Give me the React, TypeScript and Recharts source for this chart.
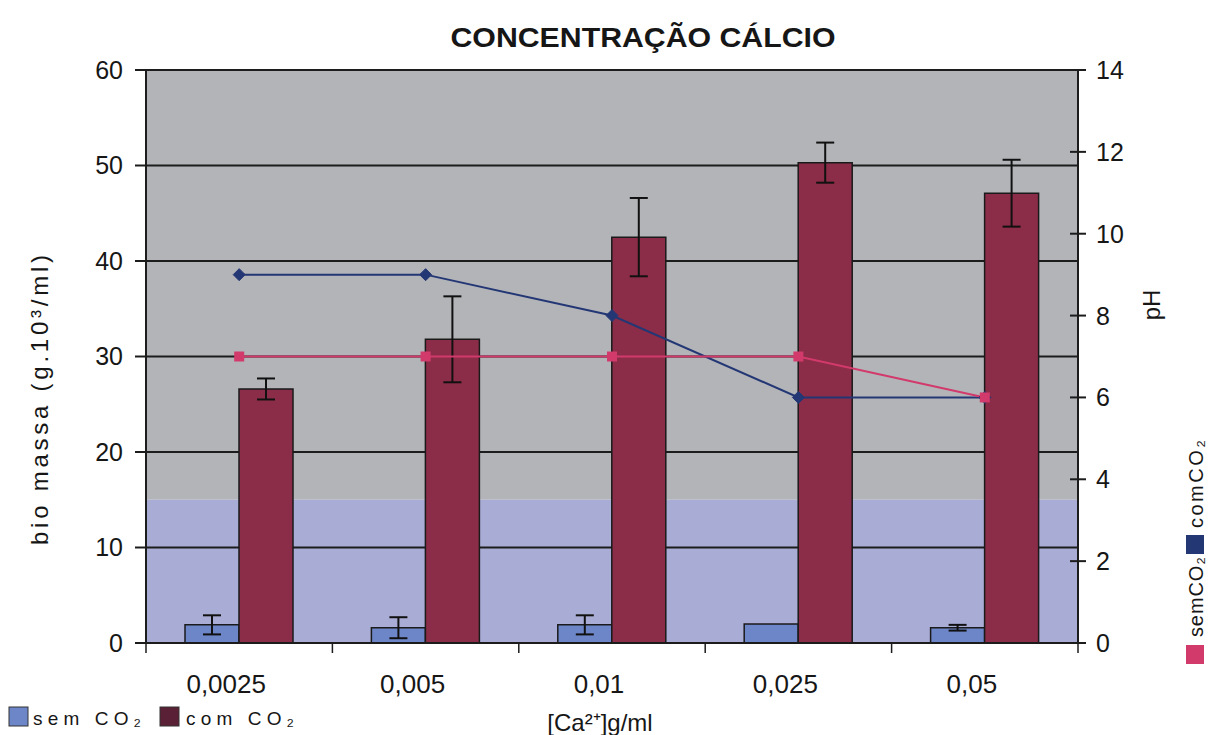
import React from 'react';
import {
  ComposedChart,
  Bar,
  Line,
  XAxis,
  YAxis,
  ErrorBar,
  ReferenceArea,
  ReferenceLine,
} from 'recharts';

// Calcium concentration categories (g/ml)
const concentrations = ['0,0025', '0,005', '0,01', '0,025', '0,05'];

// Biomass (g.10³/ml) without / with CO2 and their error margins
const biomassSemCO2 = [1.9, 1.6, 1.9, 2.0, 1.6];
const biomassSemCO2Err = [1.0, 1.1, 1.0, 0, 0.3];
const biomassComCO2 = [26.6, 31.8, 42.5, 50.3, 47.1];
const biomassComCO2Err = [1.1, 4.5, 4.1, 2.1, 3.5];

// pH of the medium
const phComCO2 = [9, 9, 8, 6, 6];
const phSemCO2 = [7, 7, 7, 7, 6];

// Axis ticks
const biomassTicks = [0, 10, 20, 30, 40, 50, 60];
const phTicks = [0, 2, 4, 6, 8, 10, 12, 14];
const gridLevels = [10, 20, 30, 40, 50, 60];
const bandBoundaries = [0, 1, 2, 3, 4, 5];

// Background bands on the biomass axis
const lowerBand = [0, 15];
const upperBand = [15, 60];

const data = concentrations.map((conc, i) => ({
  idx: i,
  conc,
  sem: biomassSemCO2[i],
  semErr: biomassSemCO2Err[i],
  com: biomassComCO2[i],
  comErr: biomassComCO2Err[i],
  phCom: phComCO2[i],
  phSem: phSemCO2[i],
}));

const FONT = "'Liberation Sans', Arial, sans-serif";
const NARROW = "'Liberation Sans Narrow', 'Arial Narrow', 'Liberation Sans', Arial, sans-serif";

const COLORS = {
  gray: '#b3b4b8',
  lavender: '#a9acd5',
  grid: '#1c1c1c',
  semBar: '#6d86c8',
  comBar: '#8b2c48',
  navy: '#243775',
  pink: '#d23a6c',
  text: '#161616',
};

const Diamond = (props: any) => {
  const { cx, cy } = props;
  if (cx == null || cy == null) return null;
  const s = 6;
  return (
    <path
      d={`M${cx},${cy - s} L${cx + s},${cy} L${cx},${cy + s} L${cx - s},${cy} Z`}
      fill={COLORS.navy}
      stroke={COLORS.navy}
    />
  );
};

const Square = (props: any) => {
  const { cx, cy } = props;
  if (cx == null || cy == null) return null;
  const s = 5;
  return <rect x={cx - s} y={cy - s} width={s * 2} height={s * 2} fill={COLORS.pink} />;
};

const PhTick = (props: any) => {
  const { x, y, payload } = props;
  return (
    <g>
      <line x1={x - 18} x2={x - 2} y1={y} y2={y} stroke={COLORS.grid} strokeWidth={2} />
      <text x={x + 8} y={y} dy="0.36em" textAnchor="start" fontSize={25} fontFamily={FONT} fill={COLORS.text}>
        {payload.value}
      </text>
    </g>
  );
};

const Overlay = () => (
  <svg
    width={1212}
    height={735}
    style={{ position: 'absolute', left: 0, top: 0, pointerEvents: 'none' }}
  >
    {/* chart title */}
    <text
      x={643}
      y={47}
      textAnchor="middle"
      fontSize={27}
      fontWeight="bold"
      fontFamily={NARROW}
      fill={COLORS.text}
      textLength={385}
      lengthAdjust="spacingAndGlyphs"
    >
      CONCENTRAÇÃO CÁLCIO
    </text>

    {/* biomass axis title */}
    <text
      transform="translate(48,400) rotate(-90)"
      textAnchor="middle"
      fontSize={24}
      fontFamily={FONT}
      fill={COLORS.text}
      textLength={290}
      lengthAdjust="spacing"
    >
      bio massa (g.10³/ml)
    </text>

    {/* pH axis title */}
    <text
      transform="translate(1160,305) rotate(-90)"
      textAnchor="middle"
      fontSize={24}
      fontFamily={FONT}
      fill={COLORS.text}
    >
      pH
    </text>

    {/* concentration axis title */}
    <text x={600} y={731} textAnchor="middle" fontSize={24} fontFamily={FONT} fill={COLORS.text}>
      [Ca²⁺]g/ml
    </text>

    {/* bar legend */}
    <rect x={9} y={707} width={19} height={19} fill={COLORS.semBar} stroke="#333" strokeWidth={1} />
    <text x={33} y={725} fontSize={19} fontFamily={FONT} fill={COLORS.text} textLength={108} lengthAdjust="spacing">
      sem CO₂
    </text>
    <rect x={160} y={707} width={19} height={19} fill="#5a2035" stroke="#333" strokeWidth={1} />
    <text x={186} y={725} fontSize={19} fontFamily={FONT} fill={COLORS.text} textLength={108} lengthAdjust="spacing">
      com CO₂
    </text>

    {/* pH line legend */}
    <rect x={1186} y={645} width={18} height={19} fill={COLORS.pink} />
    <text
      transform="translate(1203,637) rotate(-90)"
      fontSize={20}
      fontFamily={FONT}
      fill={COLORS.text}
      textLength={80}
      lengthAdjust="spacing"
    >
      semCO₂
    </text>
    <rect x={1186} y={535} width={18} height={19} fill={COLORS.navy} />
    <text
      transform="translate(1203,528) rotate(-90)"
      fontSize={20}
      fontFamily={FONT}
      fill={COLORS.text}
      textLength={88}
      lengthAdjust="spacing"
    >
      comCO₂
    </text>
  </svg>
);

export default function App() {
  return (
    <div style={{ position: 'absolute', left: 0, top: 0, width: 1212, height: 735, background: '#ffffff' }}>
      <ComposedChart
        width={1212}
        height={735}
        data={data}
        margin={{ top: 70, right: 74, bottom: 50, left: 80 }}
        barGap={0}
        barSize={54}
      >
        <XAxis
          xAxisId="bounds"
          type="number"
          dataKey="idx"
          domain={[0, 5]}
          ticks={bandBoundaries}
          allowDataOverflow
          height={2}
          tickSize={10}
          tickFormatter={() => ''}
          axisLine={{ stroke: COLORS.grid, strokeWidth: 2 }}
          tickLine={{ stroke: COLORS.grid, strokeWidth: 1.5 }}
        />
        <XAxis
          xAxisId="cat"
          dataKey="conc"
          height={40}
          interval={0}
          axisLine={false}
          tickLine={false}
          tickMargin={24}
          dx={-13}
          tick={{ fontSize: 26, fontFamily: NARROW, fill: COLORS.text }}
        />
        <YAxis
          yAxisId="left"
          domain={[0, 60]}
          ticks={biomassTicks}
          interval={0}
          width={66}
          tickSize={11}
          tickMargin={12}
          axisLine={{ stroke: COLORS.grid, strokeWidth: 2 }}
          tickLine={{ stroke: COLORS.grid, strokeWidth: 2 }}
          tick={{ fontSize: 25, fontFamily: FONT, fill: COLORS.text }}
        />
        <YAxis
          yAxisId="right"
          orientation="right"
          domain={[0, 14]}
          ticks={phTicks}
          interval={0}
          width={60}
          tickSize={8}
          tickMargin={2}
          tickLine={false}
          axisLine={{ stroke: COLORS.grid, strokeWidth: 2 }}
          tick={<PhTick />}
        />

        <ReferenceArea
          xAxisId="cat"
          yAxisId="left"
          y1={upperBand[0]}
          y2={upperBand[1]}
          fill={COLORS.gray}
          fillOpacity={1}
          stroke="none"
          zIndex={-300}
        />
        <ReferenceArea
          xAxisId="cat"
          yAxisId="left"
          y1={lowerBand[0]}
          y2={lowerBand[1]}
          fill={COLORS.lavender}
          fillOpacity={1}
          stroke="none"
          zIndex={-300}
        />
        {gridLevels.map((v) => (
          <ReferenceLine
            key={v}
            xAxisId="cat"
            yAxisId="left"
            y={v}
            stroke={COLORS.grid}
            strokeWidth={2}
            zIndex={-200}
          />
        ))}

        <Bar
          xAxisId="cat"
          yAxisId="left"
          dataKey="sem"
          name="sem CO₂"
          fill={COLORS.semBar}
          stroke="#1a1a1a"
          strokeWidth={1.5}
          isAnimationActive={false}
        >
          <ErrorBar dataKey="semErr" width={9} stroke="#111" strokeWidth={2} />
        </Bar>
        <Bar
          xAxisId="cat"
          yAxisId="left"
          dataKey="com"
          name="com CO₂"
          fill={COLORS.comBar}
          stroke="#1a1a1a"
          strokeWidth={1.5}
          isAnimationActive={false}
        >
          <ErrorBar dataKey="comErr" width={9} stroke="#111" strokeWidth={2} />
        </Bar>

        <Line
          xAxisId="cat"
          yAxisId="right"
          dataKey="phCom"
          name="comCO₂"
          stroke={COLORS.navy}
          strokeWidth={2}
          dot={<Diamond />}
          activeDot={false}
          isAnimationActive={false}
        />
        <Line
          xAxisId="cat"
          yAxisId="right"
          dataKey="phSem"
          name="semCO₂"
          stroke={COLORS.pink}
          strokeWidth={2}
          dot={<Square />}
          activeDot={false}
          isAnimationActive={false}
        />
      </ComposedChart>
      <Overlay />
    </div>
  );
}
